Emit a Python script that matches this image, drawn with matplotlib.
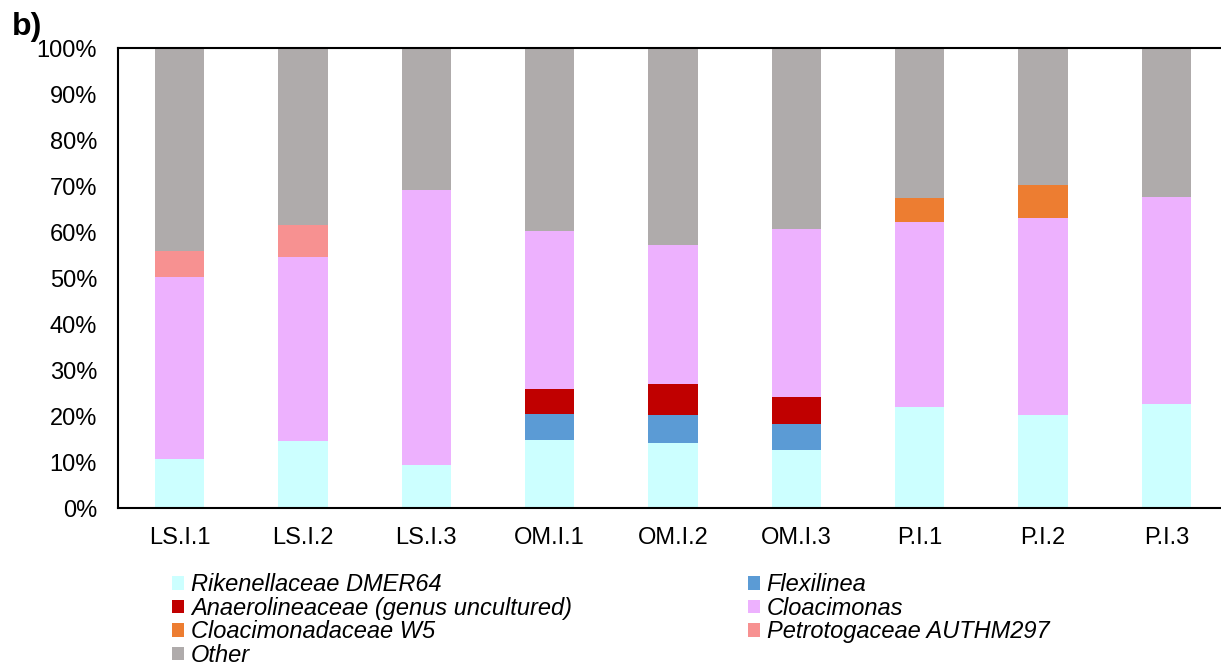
import numpy as np
import matplotlib.pyplot as plt
from matplotlib.patches import Patch
from matplotlib.ticker import PercentFormatter

plt.rcParams['font.family'] = ['Liberation Sans', 'DejaVu Sans']

# Sample names
samples = ['LS.I.1', 'LS.I.2', 'LS.I.3', 'OM.I.1', 'OM.I.2', 'OM.I.3', 'P.I.1', 'P.I.2', 'P.I.3']

# Relative abundances (%)
rikenellaceae = [10.6, 14.6, 9.3, 14.9, 14.1, 12.6, 22.0, 20.2, 22.6]
flexilinea = [0, 0, 0, 5.6, 6.1, 5.7, 0, 0, 0]
anaerolineaceae = [0, 0, 0, 5.4, 6.8, 5.9, 0, 0, 0]
cloacimonas = [39.7, 40.1, 59.9, 34.4, 30.3, 36.5, 40.2, 42.9, 45.0]
cloacimonadaceae_w5 = [0, 0, 0, 0, 0, 0, 5.3, 7.2, 0]
petrotogaceae = [5.6, 6.9, 0, 0, 0, 0, 0, 0, 0]

taxa = ['Rikenellaceae DMER64', 'Flexilinea', 'Anaerolineaceae (genus uncultured)',
        'Cloacimonas', 'Cloacimonadaceae W5', 'Petrotogaceae AUTHM297']
colors = ['#CCFFFF', '#5B9BD5', '#C00000', '#EDB1FE', '#ED7D31', '#F79191', '#AFABAB']

series = [rikenellaceae, flexilinea, anaerolineaceae, cloacimonas, cloacimonadaceae_w5, petrotogaceae]
data = np.array(series, dtype=float)
other = 100 - data.sum(axis=0)
data = np.vstack([data, other])
labels = taxa + ['Other']

fig = plt.figure(figsize=(12.21, 6.66), dpi=100)
ax = fig.add_axes([0.0966, 0.2372, 0.9091, 0.69])

x = np.arange(len(samples))
bottom = np.zeros(len(samples))
for vals, c in zip(data, colors):
    ax.bar(x, vals, 0.4, bottom=bottom, color=c, edgecolor='none')
    bottom += vals

ax.set_xlim(-0.5, len(samples) - 0.5)
ax.set_ylim(0, 100)
ax.set_yticks(np.arange(0, 101, 10))
ax.yaxis.set_major_formatter(PercentFormatter(decimals=0))
ax.set_xticks(x)
ax.set_xticklabels(samples)
ax.tick_params(axis='y', length=0, pad=15, labelsize=17)
ax.tick_params(axis='x', length=0, pad=14, labelsize=17)
for s in ax.spines.values():
    s.set_linewidth(1.5)

# Legend laid out row by row like the original (matplotlib fills columns first)
order = [0, 2, 4, 6, 1, 3, 5]
handles = [Patch(facecolor=colors[i], label=labels[i]) for i in order]
fig.legend(handles=handles, loc='upper left', bbox_to_anchor=(0.1409, 0.139),
           ncol=2, frameon=False, prop={'size': 17, 'style': 'italic'},
           handlelength=0.5, handleheight=0.5, handletextpad=0.3,
           labelspacing=0.02, columnspacing=7.45, borderpad=0, borderaxespad=0)

fig.text(0.010, 0.982, 'b)', fontsize=23, fontweight='bold', va='top')

fig.savefig('out.png', dpi=100)
